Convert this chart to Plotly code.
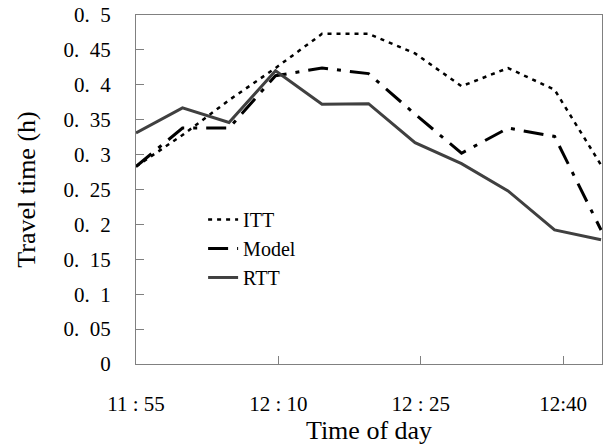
import plotly.graph_objects as go

# minutes after 11:55
time_min = [0, 4.9, 9.8, 14.7, 19.6, 24.5, 29.4, 34.3, 39.2, 44.1, 49.0]
itt = [0.283, 0.328, 0.378, 0.424, 0.473, 0.473, 0.445, 0.398, 0.424, 0.393, 0.285]
model = [0.283, 0.338, 0.338, 0.413, 0.424, 0.416, 0.358, 0.302, 0.338, 0.326, 0.192]
rtt = [0.331, 0.367, 0.346, 0.420, 0.372, 0.373, 0.317, 0.287, 0.248, 0.192, 0.178]

x_tickvals = [0, 15, 30, 45]
x_ticktext = ["11\u00a0:\u00a055", "12\u00a0:\u00a010", "12\u00a0:\u00a025", "12:40"]
y_tickvals = [0, 0.05, 0.1, 0.15, 0.2, 0.25, 0.3, 0.35, 0.4, 0.45, 0.5]
y_ticktext = ["0", "0.\u00a0\u00a005", "0.\u00a0\u00a01", "0.\u00a0\u00a015", "0.\u00a0\u00a02",
              "0.\u00a0\u00a025", "0.\u00a0\u00a03", "0.\u00a0\u00a035", "0.\u00a0\u00a04",
              "0.\u00a0\u00a045", "0.\u00a0\u00a05"]

font = "Liberation Serif, Times New Roman, serif"

fig = go.Figure()
fig.add_trace(go.Scatter(x=time_min, y=itt, mode="lines", name="ITT",
                         line=dict(color="black", width=2.5, dash="4px,5px")))
fig.add_trace(go.Scatter(x=time_min, y=model, mode="lines", name="Model",
                         line=dict(color="black", width=3, dash="20px,9px,4px,9px")))
fig.add_trace(go.Scatter(x=time_min, y=rtt, mode="lines", name="RTT",
                         line=dict(color="#404040", width=3)))

fig.update_layout(
    width=606, height=446,
    margin=dict(l=136, r=4, t=15, b=82),
    paper_bgcolor="white", plot_bgcolor="white",
    font=dict(family=font, size=21, color="black"),
    showlegend=True,
    legend=dict(x=0.144, y=0.47, xanchor="left", yanchor="top",
                bgcolor="rgba(0,0,0,0)", font=dict(size=20, family=font),
                tracegroupgap=0),
    xaxis=dict(range=[0, 49.1], tickvals=x_tickvals, ticktext=x_ticktext,
               ticks="inside", ticklen=8, tickcolor="#808080",
               showline=True, linecolor="#808080", linewidth=1, mirror=True,
               showgrid=False, zeroline=False, ticklabelstandoff=21,
               title=dict(text="Time of day", font=dict(size=26, family=font), standoff=0)),
    yaxis=dict(range=[0, 0.5], tickvals=y_tickvals, ticktext=y_ticktext,
               ticks="inside", ticklen=8, tickcolor="#808080",
               showline=True, linecolor="#808080", linewidth=1, mirror=True,
               showgrid=False, zeroline=False, ticklabelstandoff=20,
               title=dict(text="Travel time (h)", font=dict(size=26, family=font), standoff=20)),
)

fig.write_html("out.html", config={"displayModeBar": False},
               post_script="document.body.style.margin='0';document.body.style.overflow='hidden';")
